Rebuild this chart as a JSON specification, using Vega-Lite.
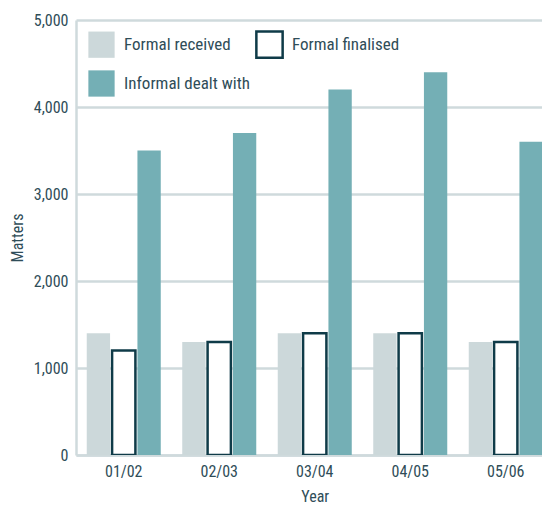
{
  "$schema": "https://vega.github.io/schema/vega-lite/v6.json",
  "width": 466,
  "height": 435,
  "autosize": {"type": "none"},
  "padding": {"left": 76, "top": 20, "right": 0, "bottom": 50},
  "background": "white",
  "config": {
    "view": {"stroke": null},
    "font": "Liberation Sans Narrow, Roboto Condensed, Roboto, sans-serif",
    "axis": {
      "labelColor": "#2f4d58",
      "titleColor": "#2f4d58",
      "labelFontSize": 16,
      "titleFontSize": 16,
      "titleFontWeight": "normal",
      "domainColor": "#cfdadc",
      "domainWidth": 2.5,
      "gridColor": "#cfdadc",
      "gridWidth": 2.5,
      "ticks": false
    },
    "legend": {
      "labelColor": "#2f4d58",
      "labelFontSize": 17
    }
  },
  "data": {
    "values": [
      {"year": "01/02", "series": "Formal received", "matters": 1400},
      {"year": "01/02", "series": "Formal finalised", "matters": 1200},
      {"year": "01/02", "series": "Informal dealt with", "matters": 3500},
      {"year": "02/03", "series": "Formal received", "matters": 1300},
      {"year": "02/03", "series": "Formal finalised", "matters": 1300},
      {"year": "02/03", "series": "Informal dealt with", "matters": 3700},
      {"year": "03/04", "series": "Formal received", "matters": 1400},
      {"year": "03/04", "series": "Formal finalised", "matters": 1400},
      {"year": "03/04", "series": "Informal dealt with", "matters": 4200},
      {"year": "04/05", "series": "Formal received", "matters": 1400},
      {"year": "04/05", "series": "Formal finalised", "matters": 1400},
      {"year": "04/05", "series": "Informal dealt with", "matters": 4400},
      {"year": "05/06", "series": "Formal received", "matters": 1300},
      {"year": "05/06", "series": "Formal finalised", "matters": 1300},
      {"year": "05/06", "series": "Informal dealt with", "matters": 3600}
    ]
  },
  "mark": {"type": "bar", "strokeWidth": 2.5, "clip": true},
  "encoding": {
    "x": {
      "field": "year",
      "type": "nominal",
      "title": "Year",
      "scale": {"range": [0, 477.5], "paddingInner": 0.225, "paddingOuter": 0.1125},
      "axis": {"labelAngle": 0, "labelPadding": 8, "titlePadding": 9, "grid": false}
    },
    "xOffset": {
      "field": "series",
      "type": "nominal",
      "sort": ["Formal received", "Formal finalised", "Informal dealt with"],
      "scale": {"paddingInner": 0.08, "paddingOuter": 0}
    },
    "y": {
      "field": "matters",
      "type": "quantitative",
      "title": "Matters",
      "scale": {"domain": [0, 5000]},
      "axis": {"values": [0, 1000, 2000, 3000, 4000, 5000], "format": ",d", "labelPadding": 8, "titlePadding": 8, "grid": true}
    },
    "fill": {
      "field": "series",
      "type": "nominal",
      "scale": {
        "domain": ["Formal received", "Formal finalised", "Informal dealt with"],
        "range": ["#ccd8da", "#ffffff", "#74afb5"]
      },
      "legend": {
        "title": null,
        "orient": "none",
        "direction": "horizontal",
        "legendX": 11,
        "legendY": 10,
        "padding": 0,
        "columns": 2,
        "columnPadding": 1,
        "rowPadding": 2,
        "symbolType": "square",
        "symbolSize": 690,
        "symbolStrokeWidth": 2.5,
        "labelOffset": 8
      }
    },
    "stroke": {
      "field": "series",
      "type": "nominal",
      "scale": {
        "domain": ["Formal received", "Formal finalised", "Informal dealt with"],
        "range": ["transparent", "#0f3b48", "transparent"]
      },
      "legend": {
        "title": null,
        "orient": "none",
        "direction": "horizontal",
        "legendX": 11,
        "legendY": 10,
        "padding": 0,
        "columns": 2,
        "columnPadding": 1,
        "rowPadding": 2,
        "symbolType": "square",
        "symbolSize": 690,
        "symbolStrokeWidth": 2.5,
        "labelOffset": 8
      }
    }
  }
}
